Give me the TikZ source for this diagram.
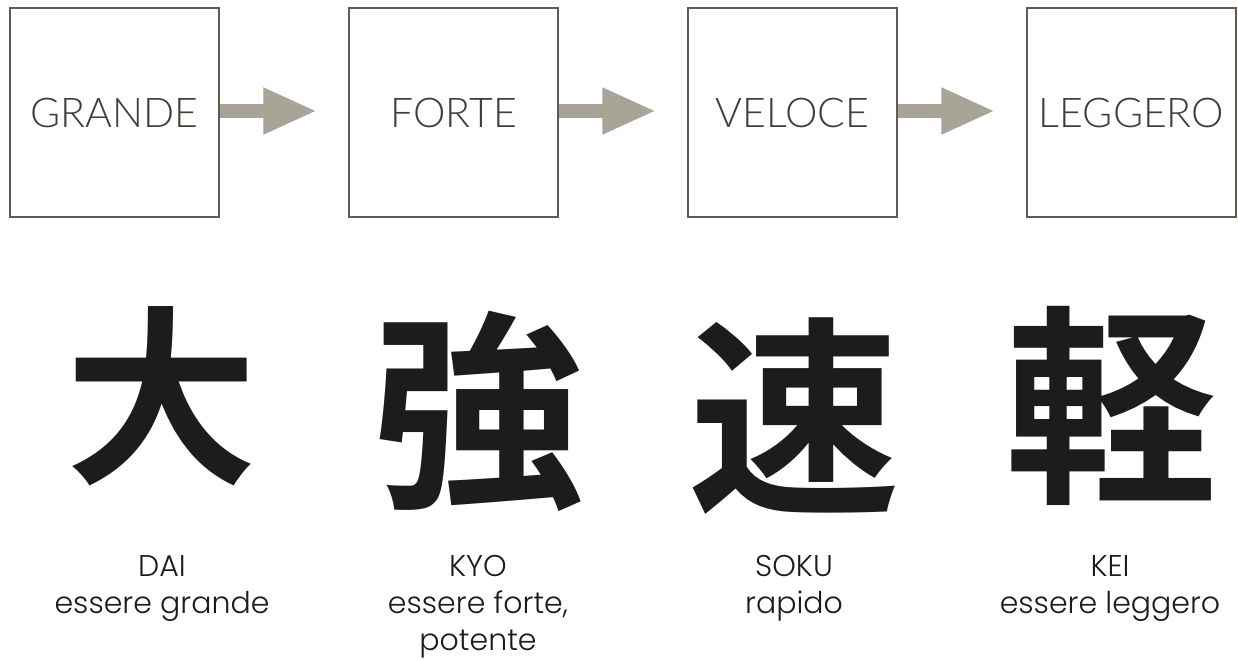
\documentclass[tikz,border=0pt]{standalone}
\usepackage{fontspec}
\setmainfont{Poppins Light}
\newfontfamily\boxfont{Lato Light}
\newfontfamily\cjk{Noto Sans CJK JP Bold}
\usetikzlibrary{arrows.meta,calc}
\definecolor{boxline}{HTML}{625A52}
\definecolor{boxtext}{HTML}{443D37}
\definecolor{arrowfill}{HTML}{A9A498}
\definecolor{labeltext}{HTML}{1C1C1C}
\begin{document}
\begin{tikzpicture}[x=1pt,y=-1pt,
  stagebox/.style={draw=boxline,line width=1.5pt,minimum width=209pt,minimum height=209pt,inner sep=0pt,
    text=boxtext,font=\boxfont\fontsize{41}{41}\selectfont},
  flowarrow/.style={draw=arrowfill,line width=14pt,line cap=butt,
    -{Triangle[length=54pt,width=43pt,fill=arrowfill]}},
  kanji/.style={inner sep=0pt,text=labeltext,font=\cjk\fontsize{212}{212}\selectfont},
  reading/.style={anchor=north,inner sep=0pt,align=center,text=labeltext,font=\fontsize{30}{37}\selectfont}]
\useasboundingbox (0,0) rectangle (1238,659);
\fill[white] (0,0) rectangle (1238,659);
% boxes
\node[stagebox] (b1) at (114.5,112.5) {GRANDE};
\node[stagebox] (b2) at (453.5,112.5) {FORTE};
\node[stagebox] (b3) at (792.5,112.5) {VELOCE};
\node[stagebox] (b4) at (1131.5,112.5) {LEGGERO};
% arrow ends
\coordinate (e1) at ($(b2.west)+(-31,-1.5)$);
\coordinate (e2) at ($(b3.west)+(-31,-1.5)$);
\coordinate (e3) at ($(b4.west)+(-31,-1.5)$);
\draw[flowarrow] ($(b1.east)+(0,-1.5)$) -- (e1);
\draw[flowarrow] ($(b2.east)+(0,-1.5)$) -- (e2);
\draw[flowarrow] ($(b3.east)+(0,-1.5)$) -- (e3);
% kanji
\node[kanji,font=\cjk\fontsize{192}{192}\selectfont] (k1) at (161,396) {大};
\node[kanji] (k2) at (478,411) {強};
\node[kanji] (k3) at (794,416) {速};
\node[kanji] (k4) at (1111,406) {軽};
% readings
\node[reading] (r1) at (162,555) {DAI\\essere grande};
\node[reading] (r2) at (478,555) {KYO\\essere forte,\\potente};
\node[reading] (r3) at (794,555) {SOKU\\rapido};
\node[reading] (r4) at (1110,555) {KEI\\essere leggero};
\end{tikzpicture}
\end{document}
